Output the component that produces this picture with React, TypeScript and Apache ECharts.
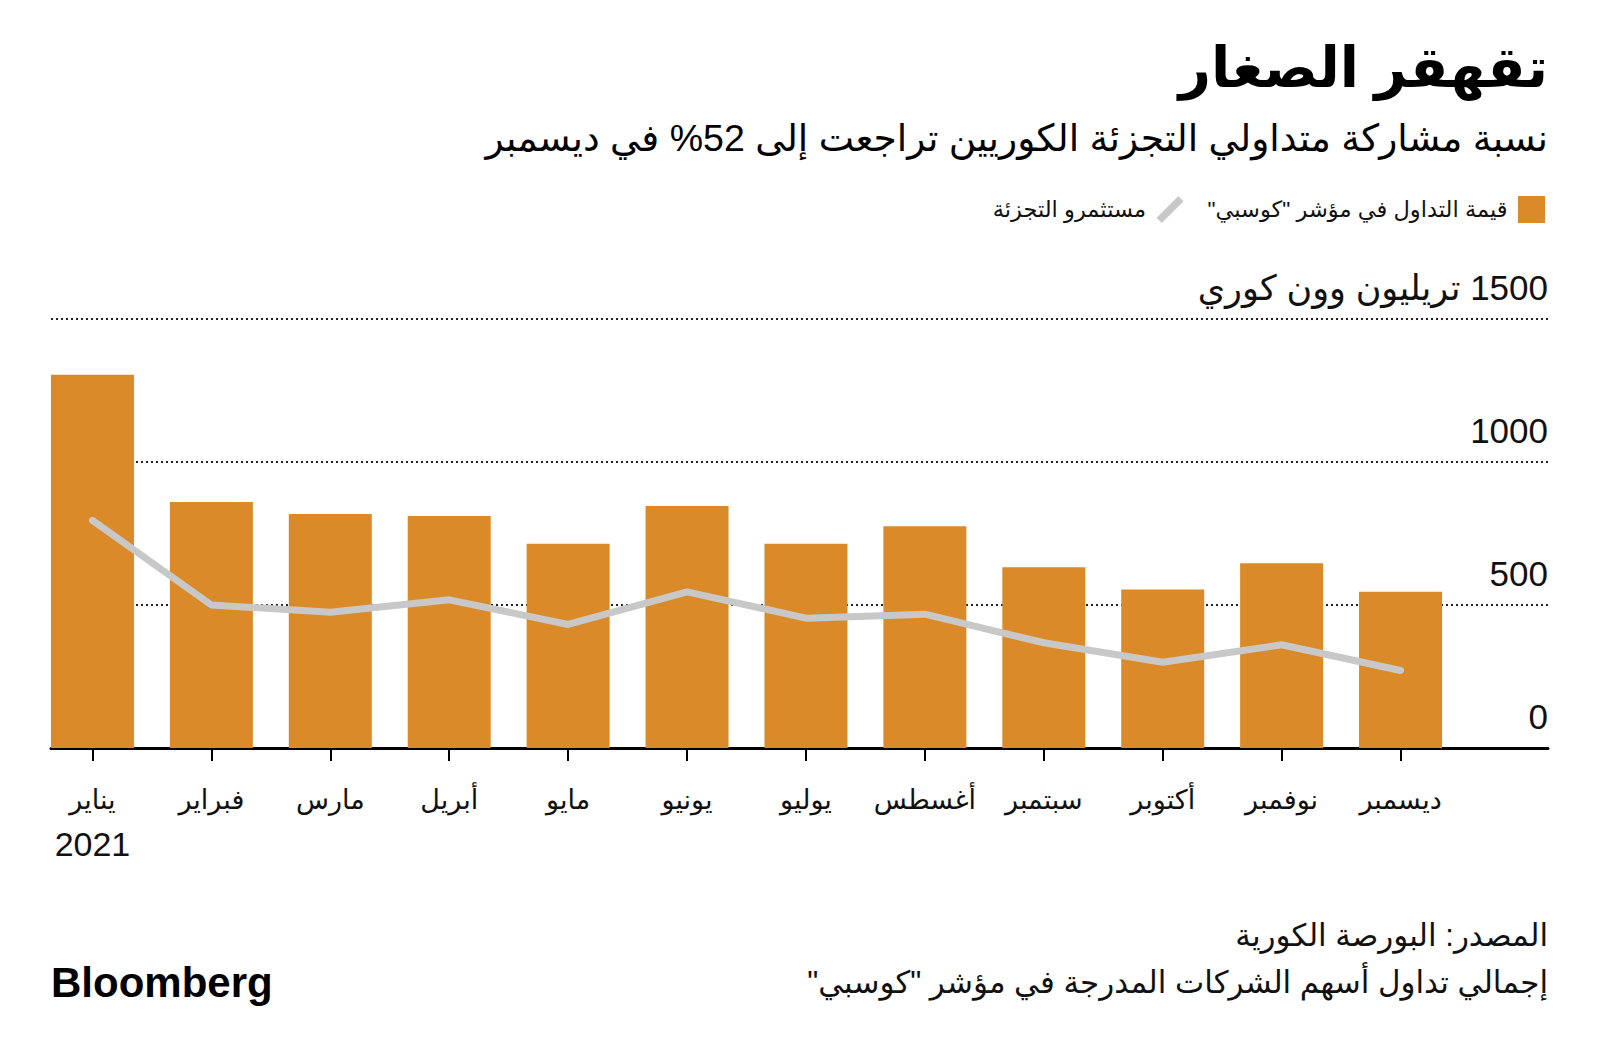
import React, { useEffect, useRef } from "react";
import * as echarts from "echarts";

const months = ["يناير", "فبراير", "مارس", "أبريل", "مايو", "يونيو", "يوليو", "أغسطس", "سبتمبر", "أكتوبر", "نوفمبر", "ديسمبر"];
const yearLabel = "2021";
const tradingValue = [1305, 860, 818, 811, 714, 846, 714, 775, 632, 554, 646, 546];
const retailValue = [796, 500, 475, 518, 432, 546, 454, 468, 368, 300, 361, 271];
const yTicks = [0, 500, 1000, 1500];
const yUnit = "تريليون وون كوري";

const barName = "قيمة التداول في مؤشر \"كوسبي\"\u200F";
const lineName = "مستثمرو التجزئة";
const title = "تقهقر الصغار";
const subtitle = "نسبة مشاركة متداولي التجزئة الكوريين تراجعت إلى 52% في ديسمبر";
const source1 = "المصدر: البورصة الكورية";
const source2 = "إجمالي تداول أسهم الشركات المدرجة في مؤشر \"كوسبي\"\u200F";

const FONT = "'Liberation Sans', 'DejaVu Sans', sans-serif";

export default function App() {
  const ref = useRef<HTMLDivElement>(null);
  useEffect(() => {
    if (!ref.current) return;
    const chart = echarts.init(ref.current, null, { renderer: "svg" });
    const top = 319;
    const bottom = 1060 - 748;
    chart.setOption({
      animation: false,
      backgroundColor: "#fff",
      textStyle: { fontFamily: FONT },
      grid: [
        { left: 51, right: 52, top, bottom },
        { left: 33, right: 140, top, bottom },
      ],
      xAxis: [
        {
          gridIndex: 0,
          type: "value",
          min: 0,
          max: 1,
          axisLabel: { show: false },
          axisTick: { show: false },
          splitLine: { show: false },
          axisLine: { show: true, onZero: false, lineStyle: { color: "#000", width: 3 } },
        },
        {
          gridIndex: 1,
          type: "category",
          data: months,
          axisLine: { show: false },
          axisTick: { show: true, alignWithLabel: true, length: 13, lineStyle: { color: "#000", width: 2 } },
          axisLabel: {
            interval: 0,
            margin: 30,
            color: "#111",
            fontFamily: FONT,
            formatter: (v: string, i: number) => (i === 0 ? "{m|" + v + "}\n{y|" + yearLabel + "}" : "{m|" + v + "}"),
            rich: {
              m: { fontSize: 27, lineHeight: 44, fontFamily: FONT, color: "#111" },
              y: { fontSize: 34, lineHeight: 44, fontFamily: FONT, color: "#111" },
            },
          },
        },
      ],
      yAxis: [
        {
          gridIndex: 0,
          type: "value",
          position: "right",
          min: 0,
          max: 1500,
          interval: 500,
          axisLine: { show: false },
          axisTick: { show: false },
          splitLine: { show: true, lineStyle: { color: "#222", type: [2, 3], width: 2 } },
          axisLabel: {
            inside: true,
            margin: 0,
            fontSize: 35,
            color: "#111",
            fontFamily: FONT,
            verticalAlign: "bottom",
            lineHeight: 38,
            padding: [0, 0, 13, 0],
            formatter: (v: number) => (v === yTicks[yTicks.length - 1] ? "\u200F" + v + " " + yUnit : String(v)),
          },
        },
        {
          gridIndex: 1,
          type: "value",
          min: 0,
          max: 1500,
          show: false,
          splitLine: { show: false },
        },
      ],
      legend: {
        right: 50,
        top: 191,
        itemWidth: 30,
        itemHeight: 27,
        itemGap: 24,
        align: "right",
        data: [
          { name: lineName, icon: "path://M0,25 L25,0 L31,6 L6,31 Z" },
          { name: barName, icon: "path://M0,0 L26,0 L26,26 L0,26 Z" },
        ],
        textStyle: { fontSize: 22.5, color: "#111", fontFamily: FONT, padding: [0, 4, 0, 0] },
      },
      series: [
        {
          name: barName,
          type: "bar",
          xAxisIndex: 1,
          yAxisIndex: 1,
          data: tradingValue,
          barWidth: 83,
          itemStyle: { color: "#DA8A28" },
          z: 2,
        },
        {
          name: lineName,
          type: "line",
          xAxisIndex: 1,
          yAxisIndex: 1,
          data: retailValue,
          showSymbol: false,
          symbol: "none",
          itemStyle: { color: "#C8C8C8" },
          lineStyle: { color: "#C8C8C8", width: 7, cap: "round", join: "round" },
          z: 3,
        },
      ],
      graphic: [
        {
          type: "text",
          x: 1548,
          y: 67,
          style: { text: title, font: `bold 56px ${FONT}`, fill: "#000", textAlign: "right", textVerticalAlign: "middle" },
        },
        {
          type: "text",
          x: 1548,
          y: 138,
          style: { text: subtitle, font: `37.5px ${FONT}`, fill: "#000", textAlign: "right", textVerticalAlign: "middle" },
        },
        {
          type: "text",
          x: 1548,
          y: 935,
          style: { text: source1, font: `31px ${FONT}`, fill: "#111", textAlign: "right", textVerticalAlign: "middle" },
        },
        {
          type: "text",
          x: 1548,
          y: 982,
          style: { text: source2, font: `31px ${FONT}`, fill: "#111", textAlign: "right", textVerticalAlign: "middle" },
        },
        {
          type: "text",
          x: 51,
          y: 982,
          style: { text: "Bloomberg", font: `bold 42px ${FONT}`, fill: "#000", textAlign: "left", textVerticalAlign: "middle" },
        },
      ],
    });
    return () => chart.dispose();
  }, []);
  return <div ref={ref} style={{ position: "fixed", left: 0, top: 0, width: 1600, height: 1060 }} />;
}
